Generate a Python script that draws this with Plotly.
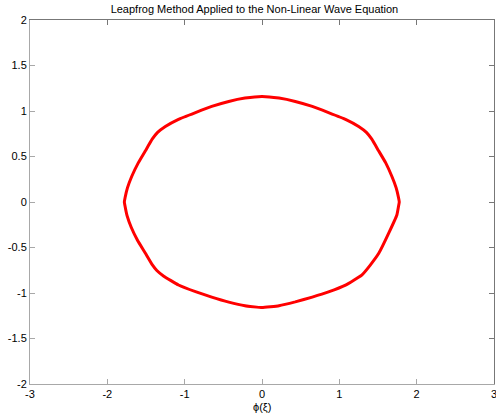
import plotly.graph_objects as go

title_text = "Leapfrog Method Applied to the Non-Linear Wave Equation"
x_label = "ϕ(ξ)"
x_ticks = [-3, -2, -1, 0, 1, 2, 3]
y_ticks = [-2, -1.5, -1, -0.5, 0, 0.5, 1, 1.5, 2]
y_tick_text = ["-2", "-1.5", "-1", "-0.5", "0", "0.5", "1", "1.5", "2"]

# closed orbit traced clockwise from the top
phi = [0.0, 0.22, 0.43, 0.65, 0.86, 1.08, 1.25, 1.35, 1.42, 1.51, 1.60, 1.68, 1.735, 1.765, 1.775,
       1.765, 1.745, 1.64, 1.51, 1.40, 1.29, 1.08, 0.86, 0.65, 0.43, 0.22, 0.0,
       -0.22, -0.43, -0.65, -0.86, -1.08, -1.27, -1.36, -1.42, -1.51, -1.61, -1.69, -1.745, -1.77, -1.78,
       -1.77, -1.74, -1.685, -1.60, -1.51, -1.42, -1.35, -1.25, -1.08, -0.86, -0.65, -0.43, -0.22, 0.0]
dphi = [1.16, 1.142, 1.105, 1.05, 0.983, 0.909, 0.83, 0.765, 0.69, 0.56, 0.43, 0.28, 0.155, 0.05, 0.0,
        -0.05, -0.14, -0.34, -0.564, -0.693, -0.803, -0.914, -0.988, -1.045, -1.098, -1.14, -1.16,
        -1.14, -1.10, -1.045, -0.985, -0.912, -0.815, -0.752, -0.688, -0.56, -0.42, -0.28, -0.15, -0.05, 0.0,
        0.05, 0.155, 0.28, 0.43, 0.56, 0.69, 0.765, 0.83, 0.909, 0.983, 1.05, 1.105, 1.142, 1.16]

fig = go.Figure()
fig.add_trace(go.Scatter(x=phi, y=dphi, mode="lines",
                         line=dict(color="#ff0000", width=3, shape="spline", smoothing=0.3),
                         showlegend=False, hoverinfo="skip"))
# invisible trace to activate the mirror axes
fig.add_trace(go.Scatter(x=[None], y=[None], xaxis="x2", yaxis="y2", showlegend=False))

font = dict(family="Liberation Sans, Arial, sans-serif", size=11, color="#000000")
common = dict(showgrid=False, zeroline=False, ticks="inside", ticklen=5, tickwidth=1,
              showline=True, linewidth=1, automargin=False)

fig.update_layout(
    width=496, height=414,
    margin=dict(l=30, r=2, t=20, b=30, autoexpand=False),
    paper_bgcolor="white", plot_bgcolor="white",
    font=font,
    title=dict(text=title_text, x=0.513, xanchor="center", y=0.988, yanchor="top",
               font=dict(family="Liberation Sans, Arial, sans-serif", size=11, color="#000")),
    xaxis=dict(range=[-3, 3], tickvals=x_ticks, ticktext=[str(v) for v in x_ticks],
               ticklabeloverflow="allow",
               linecolor="#a8a8a8", tickcolor="#a8a8a8", **common),
    yaxis=dict(range=[-2, 2], tickvals=y_ticks, ticktext=y_tick_text,
               ticklabeloverflow="allow",
               linecolor="#a8a8a8", tickcolor="#a8a8a8", **common),
    xaxis2=dict(range=[-3, 3], overlaying="x", side="top", tickvals=x_ticks, showticklabels=False,
                linecolor="#777777", tickcolor="#777777", **common),
    yaxis2=dict(range=[-2, 2], overlaying="y", side="right", tickvals=y_ticks, showticklabels=False,
                linecolor="#777777", tickcolor="#777777", **common),
    annotations=[dict(text=x_label, xref="paper", yref="paper", x=0.5, y=-0.04,
                      xanchor="center", yanchor="top", showarrow=False, font=font)],
)

fig.write_html("out.html", config={"displayModeBar": False},
               post_script="document.body.style.margin='0';document.body.style.overflow='hidden';")
